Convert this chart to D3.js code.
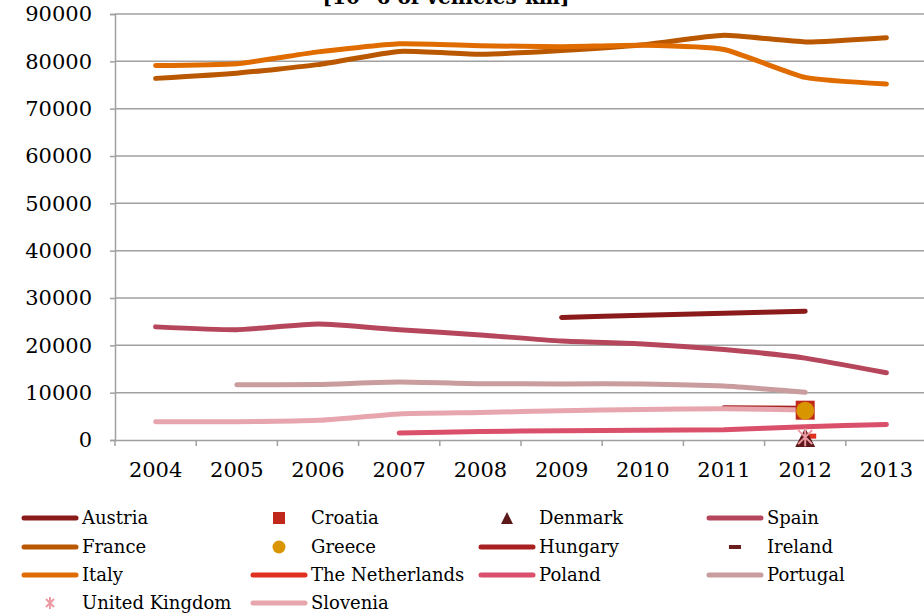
<!DOCTYPE html>
<html>
<head>
<meta charset="utf-8">
<script src="https://cdnjs.cloudflare.com/ajax/libs/d3/7.8.5/d3.min.js"></script>
<style>
	body { margin: 0; background: #ffffff; }
	text { font-family: "DejaVu Serif", serif; fill: #000000; }
</style>
</head>
<body>
<div class="canvas"></div>
<script>
// data (10^6 vehicles-km)
var years = ["2004", "2005", "2006", "2007", "2008", "2009", "2010", "2011", "2012", "2013"];
var yTicks = [0, 10000, 20000, 30000, 40000, 50000, 60000, 70000, 80000, 90000];

var austria = [null, null, null, null, null, 25900, 26350, 26800, 27200, null];
var france = [76400, 77500, 79300, 82100, 81500, 82300, 83500, 85500, 84100, 85000];
var italy = [79100, 79500, 82000, 83700, 83300, 83100, 83400, 82500, 76600, 75200];
var spain = [23900, 23300, 24500, 23300, 22200, 20900, 20300, 19100, 17300, 14200];
var hungary = [null, null, null, null, null, null, null, 6800, 6700, null];
var netherlands = [null, null, null, null, null, null, null, null, null, null];
var poland = [null, null, null, 1500, 1800, 1950, 2050, 2180, 2800, 3300];
var portugal = [null, 11650, 11750, 12250, 11900, 11850, 11850, 11400, 10100, null];
var slovenia = [3850, 3850, 4150, 5500, 5800, 6200, 6450, 6600, 6350, null];

var croatia = [null, null, null, null, null, null, null, null, 6300, null];
var greece = [null, null, null, null, null, null, null, null, 6200, null];
var denmark = [null, null, null, null, null, null, null, null, 400, null];
var ireland = [null, null, null, null, null, null, null, null, 500, null];
var uk = [null, null, null, null, null, null, null, null, 600, null];

var svg = d3.select(".canvas")
			.append("svg")
			.attr("width", 924)
			.attr("height", 614);

var x = d3.scaleBand()
		.domain(years)
		.range([115, 927]);

var y = d3.scaleLinear()
		.domain([0, 90000])
		.range([440, 14]);

// gridlines
svg.append("g")
	.selectAll("line")
	.data(yTicks.slice(1))
	.enter()
	.append("line")
	.attr("x1", 115)
	.attr("x2", 924)
	.attr("y1", function(d){ return y(d); })
	.attr("y2", function(d){ return y(d); })
	.attr("stroke", "#a0a0a0")
	.attr("stroke-width", 1.5);

// y axis
var yAxis = svg.append("g")
	.attr("transform", "translate(115,0)")
	.call(d3.axisLeft(y).tickValues(yTicks).tickSize(5).tickPadding(18).tickFormat(d3.format("d")));
yAxis.select(".domain").attr("stroke", "#a0a0a0").attr("stroke-width", 1.5);
yAxis.selectAll(".tick line").attr("stroke", "#a0a0a0").attr("stroke-width", 1.5);
yAxis.selectAll(".tick text")
	.attr("font-family", "DejaVu Serif")
	.attr("font-size", "21px")
	.attr("fill", "#000000");

// x axis (ticks between categories)
var xAxis = svg.append("g")
	.attr("transform", "translate(0,440)")
	.call(d3.axisBottom(x).tickSize(0).tickPadding(22));
xAxis.select(".domain").attr("stroke", "#a0a0a0").attr("stroke-width", 1.5);
xAxis.selectAll(".tick text")
	.attr("font-family", "DejaVu Serif")
	.attr("font-size", "21px")
	.attr("fill", "#000000");
xAxis.selectAll(".sep")
	.data(years)
	.enter()
	.append("line")
	.attr("x1", function(d){ return x(d); })
	.attr("x2", function(d){ return x(d); })
	.attr("y1", 0)
	.attr("y2", 6)
	.attr("stroke", "#a0a0a0")
	.attr("stroke-width", 1.5);

// title (top line is cut off in the original)
svg.append("text")
	.attr("x", 446)
	.attr("y", 4)
	.attr("text-anchor", "middle")
	.attr("font-weight", "bold")
	.attr("font-size", "20px")
	.text("[10^6 of vehicles-km]");

var line = d3.line()
	.defined(function(d){ return d != null; })
	.x(function(d, i){ return x(years[i]) + x.bandwidth() / 2; })
	.y(function(d){ return y(d); })
	.curve(d3.curveCardinal.tension(0.5));

var lineSeries = [
	{ name: "Hungary", values: hungary, color: "#a82020" },
	{ name: "Austria", values: austria, color: "#8b1a1a" },
	{ name: "The Netherlands", values: netherlands, color: "#e03020" },
	{ name: "Spain", values: spain, color: "#b6465b" },
	{ name: "Portugal", values: portugal, color: "#c99c9d" },
	{ name: "Slovenia", values: slovenia, color: "#e7a6ae" },
	{ name: "Poland", values: poland, color: "#da4f69" },
	{ name: "France", values: france, color: "#b95800" },
	{ name: "Italy", values: italy, color: "#e06c00" }
];

svg.append("g")
	.selectAll("path")
	.data(lineSeries)
	.enter()
	.append("path")
	.attr("d", function(d){ return line(d.values); })
	.attr("fill", "none")
	.attr("stroke", function(d){ return d.color; })
	.attr("stroke-width", 5)
	.attr("stroke-linecap", "round")
	.attr("stroke-linejoin", "round");

function cx(i){ return x(years[i]) + x.bandwidth() / 2; }

function points(values){
	return values.map(function(v, i){ return { i: i, v: v }; })
				 .filter(function(d){ return d.v != null; });
}

var markers = svg.append("g");

// Croatia squares
markers.selectAll(".croatia")
	.data(points(croatia))
	.enter()
	.append("rect")
	.attr("x", function(d){ return cx(d.i) - 9.5; })
	.attr("y", function(d){ return y(d.v) - 9.5; })
	.attr("width", 19)
	.attr("height", 19)
	.attr("fill", "#c0281c");

// Greece circles
markers.selectAll(".greece")
	.data(points(greece))
	.enter()
	.append("circle")
	.attr("cx", function(d){ return cx(d.i); })
	.attr("cy", function(d){ return y(d.v); })
	.attr("r", 9)
	.attr("fill", "#d99500");

// Ireland dash
markers.selectAll(".ireland")
	.data(points(ireland))
	.enter()
	.append("rect")
	.attr("x", function(d){ return cx(d.i) + 2; })
	.attr("y", function(d){ return y(d.v) - 4; })
	.attr("width", 9)
	.attr("height", 5)
	.attr("fill", "#e03020");

// Denmark triangles
markers.selectAll(".denmark")
	.data(points(denmark))
	.enter()
	.append("path")
	.attr("d", function(d){
		var px = cx(d.i), py = y(d.v);
		return "M" + (px - 10) + "," + (py + 9) + "L" + (px + 10) + "," + (py + 9) + "L" + px + "," + (py - 10) + "Z";
	})
	.attr("fill", "#5e1a1a");

// United Kingdom asterisks
markers.selectAll(".uk")
	.data(points(uk))
	.enter()
	.append("path")
	.attr("d", function(d){
		var px = cx(d.i), py = y(d.v);
		return "M" + (px - 7) + "," + (py - 7) + "L" + (px + 7) + "," + (py + 7) +
			   "M" + (px - 7) + "," + (py + 7) + "L" + (px + 7) + "," + (py - 7) +
			   "M" + px + "," + (py - 9) + "L" + px + "," + (py + 9);
	})
	.attr("stroke", "#ec9aa3")
	.attr("stroke-width", 2)
	.attr("fill", "none");

// legend
var legendItems = [
	{ name: "Austria", type: "line", color: "#8b1a1a" },
	{ name: "Croatia", type: "square", color: "#c0281c" },
	{ name: "Denmark", type: "triangle", color: "#5e1a1a" },
	{ name: "Spain", type: "line", color: "#b6465b" },
	{ name: "France", type: "line", color: "#b95800" },
	{ name: "Greece", type: "circle", color: "#d99500" },
	{ name: "Hungary", type: "line", color: "#a82020" },
	{ name: "Ireland", type: "dash", color: "#6b1e1e" },
	{ name: "Italy", type: "line", color: "#e06c00" },
	{ name: "The Netherlands", type: "line", color: "#e03020" },
	{ name: "Poland", type: "line", color: "#da4f69" },
	{ name: "Portugal", type: "line", color: "#c99c9d" },
	{ name: "United Kingdom", type: "star", color: "#ec9aa3" },
	{ name: "Slovenia", type: "line", color: "#e7a6ae" }
];

var colX = [22, 251, 479, 707];
var rowY = [518, 547, 575, 603];

var legend = svg.append("g")
	.selectAll("g")
	.data(legendItems)
	.enter()
	.append("g")
	.attr("transform", function(d, i){ return "translate(" + colX[i % 4] + "," + rowY[Math.floor(i / 4)] + ")"; });

legend.each(function(d){
	var g = d3.select(this);
	if (d.type == "line") {
		g.append("line")
			.attr("x1", 2).attr("x2", 54)
			.attr("y1", 0).attr("y2", 0)
			.attr("stroke", d.color)
			.attr("stroke-width", 5)
			.attr("stroke-linecap", "round");
	} else if (d.type == "square") {
		g.append("rect")
			.attr("x", 22).attr("y", -6)
			.attr("width", 12).attr("height", 12)
			.attr("fill", d.color);
	} else if (d.type == "circle") {
		g.append("circle")
			.attr("cx", 28).attr("cy", 0)
			.attr("r", 6.5)
			.attr("fill", d.color);
	} else if (d.type == "triangle") {
		g.append("path")
			.attr("d", "M22,6L34,6L28,-6Z")
			.attr("fill", d.color);
	} else if (d.type == "dash") {
		g.append("rect")
			.attr("x", 22).attr("y", -2)
			.attr("width", 12).attr("height", 4)
			.attr("fill", d.color);
	} else if (d.type == "star") {
		g.append("path")
			.attr("d", "M24,-4L32,4M24,4L32,-4M28,-6L28,6")
			.attr("stroke", d.color)
			.attr("stroke-width", 2)
			.attr("fill", "none");
	}
	g.append("text")
		.attr("x", 60)
		.attr("y", 0)
		.attr("dy", "0.35em")
		.attr("font-size", "18px")
		.text(d.name);
});
</script>
</body>
</html>
